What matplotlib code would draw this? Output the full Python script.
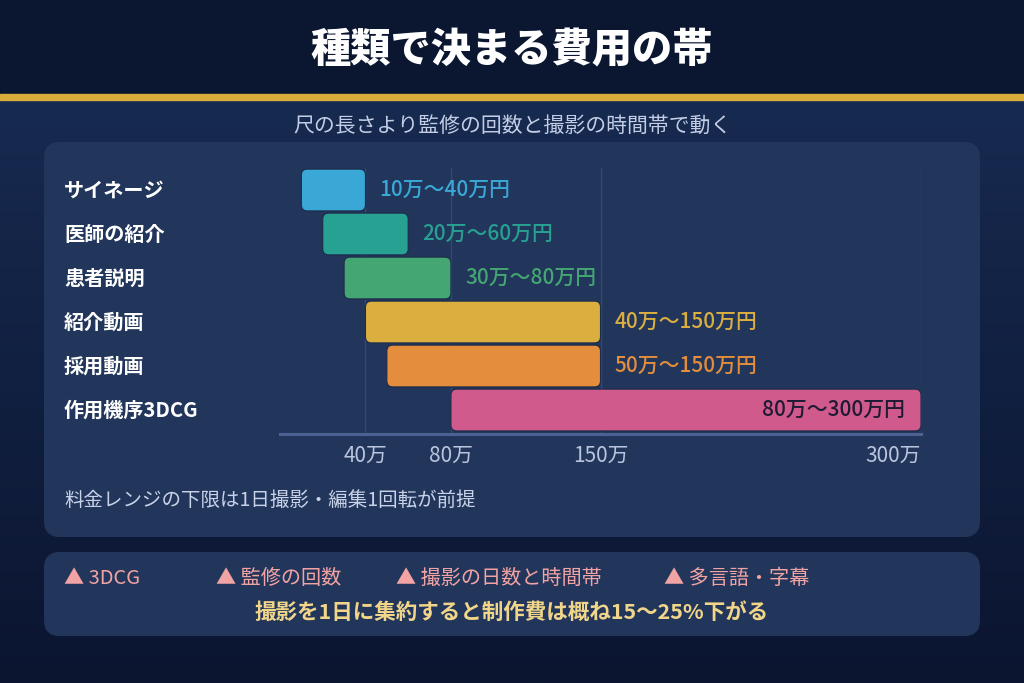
import matplotlib
matplotlib.use("Agg")
import matplotlib.pyplot as plt
import numpy as np
from matplotlib.patches import FancyBboxPatch, Rectangle
from matplotlib.transforms import blended_transform_factory, offset_copy

plt.rcParams['font.family'] = ['Noto Sans CJK JP', 'DejaVu Sans']

# data
categories = ['サイネージ', '医師の紹介', '患者説明', '紹介動画', '採用動画', '作用機序3DCG']
low = [10, 20, 30, 40, 50, 80]
high = [40, 60, 80, 150, 150, 300]
range_labels = ['10万〜40万円', '20万〜60万円', '30万〜80万円',
                '40万〜150万円', '50万〜150万円', '80万〜300万円']
bar_colors = ['#3aa8d6', '#27a192', '#44a672', '#dbae40', '#e38d3d', '#cf5a8b']
tick_vals = [40, 80, 150, 300]
tick_labels = ['40万', '80万', '150万', '300万']
factors = ['▲ 3DCG', '▲ 監修の回数', '▲ 撮影の日数と時間帯', '▲ 多言語・字幕']
factor_x = [64, 216, 396, 664]

W, H = 1024, 683
fig = plt.figure(figsize=(W / 100, H / 100), dpi=100)

# background layer in pixel coordinates
bg = fig.add_axes([0, 0, 1, 1])
bg.set_xlim(0, W)
bg.set_ylim(H, 0)
bg.axis('off')

grad = np.linspace(0, 1, 256).reshape(-1, 1)
top_c = np.array([0x17, 0x2a, 0x50]) / 255
bot_c = np.array([0x0b, 0x15, 0x30]) / 255
img = top_c + (bot_c - top_c) * grad[..., None]
bg.imshow(img, extent=[0, W, H, 100], aspect='auto', zorder=0)
bg.add_patch(Rectangle((0, 0), W, 95, color='#0b1630', zorder=1))
bg.add_patch(Rectangle((0, 94), W, 6, color='#d9ad3c', zorder=2))

for (y0, y1) in [(142, 537), (552, 636)]:
    bg.add_patch(FancyBboxPatch((44, y0), 936, y1 - y0,
                                boxstyle='round,pad=0,rounding_size=16',
                                facecolor='#22365b', edgecolor='none', zorder=2))

bg.text(512, 51, '種類で決まる費用の帯', color='white', fontsize=29,
        fontweight='heavy', ha='center', va='center', zorder=3)
bg.text(512, 126, '尺の長さより監修の回数と撮影の時間帯で動く', color='#c3cee6',
        fontsize=15, ha='center', va='center', zorder=3)
bg.text(64, 500, '料金レンジの下限は1日撮影・編集1回転が前提', color='#c8d2e8',
        fontsize=14, ha='left', va='center', zorder=3)
for t, x in zip(factors, factor_x):
    bg.text(x, 578, t, color='#f2a3a3', fontsize=14.5, ha='left', va='center', zorder=3)
bg.text(512, 612, '撮影を1日に集約すると制作費は概ね15〜25%下がる', color='#f1d68a',
        fontsize=15.5, fontweight='bold', ha='center', va='center', zorder=3)

# chart axes: x 0..300 -> px 280..921, rows 44 px apart
ax_left, ax_right, ax_top, ax_bot = 280, 921, 168, 434
ax = fig.add_axes([ax_left / W, 1 - ax_bot / H, (ax_right - ax_left) / W, (ax_bot - ax_top) / H])
ax.patch.set_alpha(0)
ax.set_xlim(0, 300)
ax.set_ylim(5.545, -0.5)
for s in ['top', 'right', 'left']:
    ax.spines[s].set_visible(False)
ax.spines['bottom'].set_color('#4c6292')
ax.spines['bottom'].set_linewidth(2.2)
ax.set_yticks([])
ax.set_xticks(tick_vals)
ax.set_xticklabels(tick_labels, color='#b9c5de', fontsize=15)
ax.tick_params(axis='x', length=0, pad=8)
last = ax.get_xticklabels()[-1]
last.set_ha('right')

for v in tick_vals:
    ax.axvline(v, color='#34486f', linewidth=1, zorder=1)

px_x = 300 / (ax_right - ax_left)
px_y = 1 / 44
bar_h = 0.95
radius = 6 * px_x
aspect = px_y / px_x
lab_tr = blended_transform_factory(fig.transFigure, ax.transData)

for i, (c, lo, hi, lab, col) in enumerate(zip(categories, low, high, range_labels, bar_colors)):
    ax.add_patch(FancyBboxPatch((lo, i - bar_h / 2), hi - lo, bar_h,
                                boxstyle=f'round,pad=0,rounding_size={radius}',
                                mutation_aspect=aspect, facecolor=col,
                                edgecolor='#1c2b4a', linewidth=0.8, zorder=3))
    if hi >= 300:
        ax.text(hi - 16 * px_x, i, lab, color='#1f1a33', fontsize=15,
                fontweight='medium', ha='right', va='center', zorder=4)
    else:
        ax.text(hi + 14 * px_x, i, lab, color=col, fontsize=15,
                fontweight='medium', ha='left', va='center', zorder=4)
    ax.text(64 / W, i, c, transform=lab_tr, color='white', fontsize=14.5,
            fontweight='bold', ha='left', va='center', zorder=4)

fig.savefig('out.png', dpi=100)
